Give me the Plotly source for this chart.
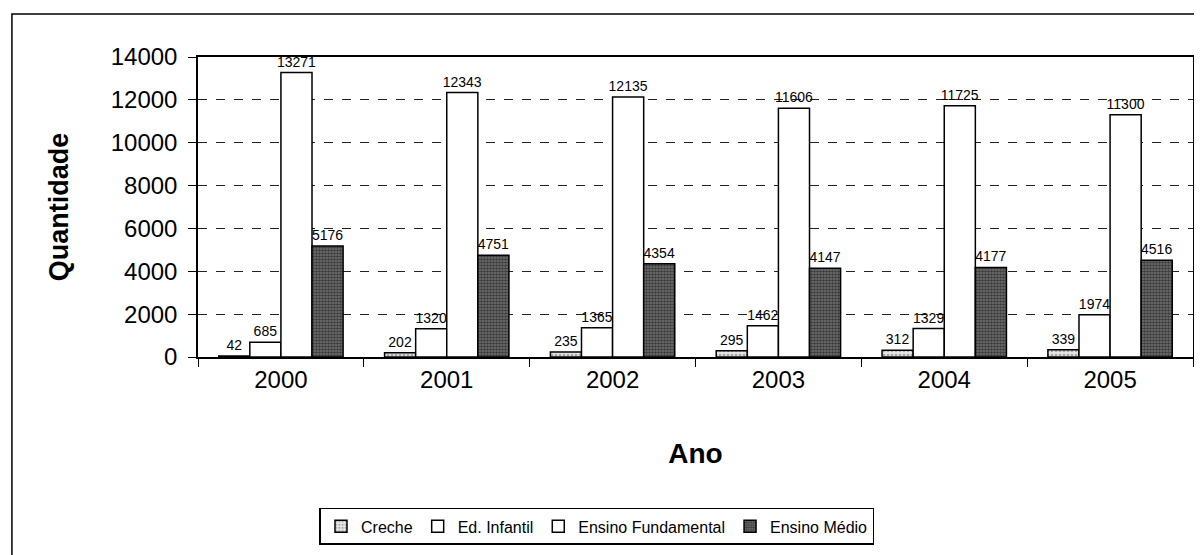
import plotly.graph_objects as go

anos = ["2000", "2001", "2002", "2003", "2004", "2005"]
creche = [42, 202, 235, 295, 312, 339]
ed_infantil = [685, 1320, 1365, 1462, 1329, 1974]
fundamental = [13271, 12343, 12135, 11606, 11725, 11300]
medio = [5176, 4751, 4354, 4147, 4177, 4516]
yticks = [0, 2000, 4000, 6000, 8000, 10000, 12000, 14000]

FONT = "Liberation Sans, Arial, sans-serif"

fig = go.Figure()

def add(name, vals, color, pattern=None):
    fig.add_trace(go.Bar(
        name=name, x=anos, y=vals,
        text=[str(v) for v in vals], textposition="outside",
        textfont=dict(family=FONT, size=14, color="black"),
        constraintext="none",
        cliponaxis=False,
        marker=dict(color=color, line=dict(color="black", width=1.5),
                    pattern=pattern),
    ))

add("Creche", creche, "#e6e6e6",
    dict(shape=".", fgcolor="#666666", size=4, solidity=0.35))
add("Ed. Infantil", ed_infantil, "white")
add("Ensino Fundamental", fundamental, "white")
add("Ensino Médio", medio, "#777777",
    dict(shape=".", fgcolor="black", size=3, solidity=0.6))

fig.update_layout(
    width=1202, height=555,
    margin=dict(l=190, r=17, t=49, b=206, autoexpand=False),
    paper_bgcolor="white", plot_bgcolor="white",
    barmode="group", bargap=0.25, bargroupgap=0,
    font=dict(family=FONT, color="black"),
    showlegend=True,
    legend=dict(orientation="h", x=0.401, y=-0.503, xanchor="center", yanchor="top",
                bordercolor="black", borderwidth=1.5,
                font=dict(family=FONT, size=16, color="black"),
                itemwidth=30, tracegroupgap=0),
    shapes=[dict(type="rect", xref="paper", yref="paper",
                 x0=-0.187, x1=1.007, y0=-0.72, y1=1.143,
                 line=dict(color="black", width=1.5))],
)

fig.update_xaxes(
    type="category", showline=True, linecolor="black", linewidth=1.5,
    mirror=True, ticks="outside", tickson="boundaries", ticklen=8,
    tickcolor="black", tickfont=dict(family=FONT, size=24, color="black"),
    automargin=False,
    title=dict(text="<b>Ano</b>", font=dict(family=FONT, size=28, color="black"),
               standoff=52),
)
fig.update_yaxes(
    range=[0, 14000], tickvals=yticks, ticktext=[str(v) for v in yticks],
    showline=True, linecolor="black", mirror=True,
    linewidth=1.5, ticks="outside", ticklen=8, tickcolor="black",
    ticklabelstandoff=6,
    tickfont=dict(family=FONT, size=24, color="black"),
    showgrid=True, gridcolor="#222222", gridwidth=1, griddash="dash",
    zeroline=False, automargin=False,
    title=dict(text="<b>Quantidade</b>", font=dict(family=FONT, size=27, color="black"),
               standoff=34),
)

fig.write_html("out.html")
